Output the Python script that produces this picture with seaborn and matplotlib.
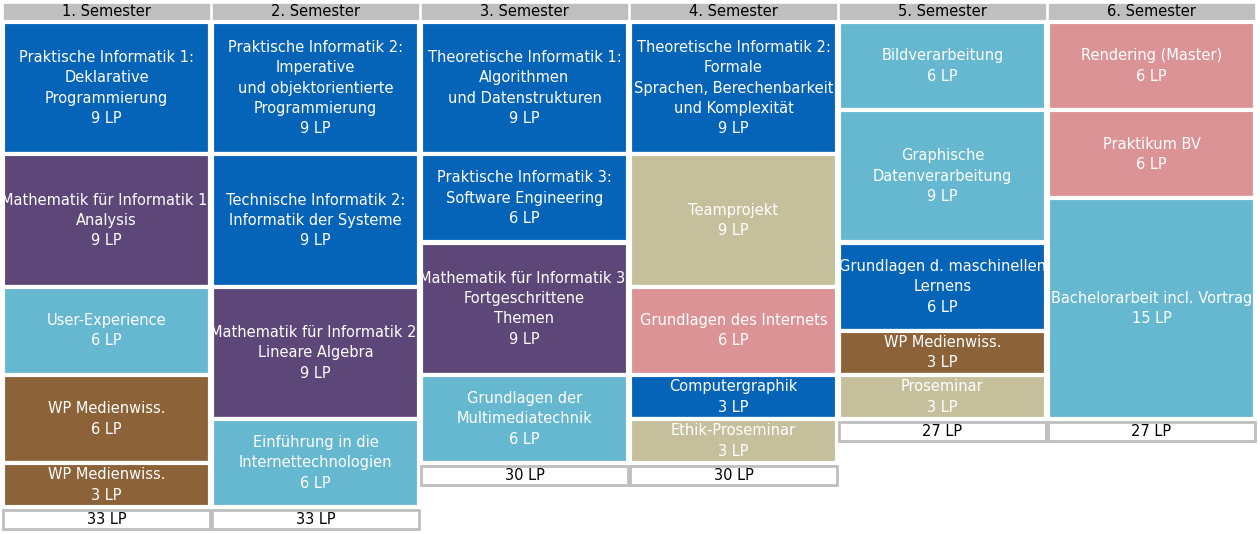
import matplotlib
matplotlib.use("Agg")
import matplotlib.pyplot as plt
import seaborn as sns

semesters = ["1. Semester", "2. Semester", "3. Semester", "4. Semester", "5. Semester", "6. Semester"]
modules = [
    [("Praktische Informatik 1:\nDeklarative\nProgrammierung", 9, "blue"),
     ("Mathematik für Informatik 1:\nAnalysis", 9, "purple"),
     ("User-Experience", 6, "light"),
     ("WP Medienwiss.", 6, "brown"),
     ("WP Medienwiss.", 3, "brown")],
    [("Praktische Informatik 2:\nImperative\nund objektorientierte\nProgrammierung", 9, "blue"),
     ("Technische Informatik 2:\nInformatik der Systeme", 9, "blue"),
     ("Mathematik für Informatik 2:\nLineare Algebra", 9, "purple"),
     ("Einführung in die\nInternettechnologien", 6, "light")],
    [("Theoretische Informatik 1:\nAlgorithmen\nund Datenstrukturen", 9, "blue"),
     ("Praktische Informatik 3:\nSoftware Engineering", 6, "blue"),
     ("Mathematik für Informatik 3:\nFortgeschrittene\nThemen", 9, "purple"),
     ("Grundlagen der\nMultimediatechnik", 6, "light")],
    [("Theoretische Informatik 2:\nFormale\nSprachen, Berechenbarkeit\nund Komplexität", 9, "blue"),
     ("Teamprojekt", 9, "tan"),
     ("Grundlagen des Internets", 6, "pink"),
     ("Computergraphik", 3, "blue"),
     ("Ethik-Proseminar", 3, "tan")],
    [("Bildverarbeitung", 6, "light"),
     ("Graphische\nDatenverarbeitung", 9, "light"),
     ("Grundlagen d. maschinellen\nLernens", 6, "blue"),
     ("WP Medienwiss.", 3, "brown"),
     ("Proseminar", 3, "tan")],
    [("Rendering (Master)", 6, "pink"),
     ("Praktikum BV", 6, "pink"),
     ("Bachelorarbeit incl. Vortrag", 15, "light")],
]
palette = {"blue": "#0563b8", "purple": "#5d4778", "light": "#66b8d0",
           "brown": "#8c6239", "tan": "#c6bf9c", "pink": "#dc9396"}

sns.set_theme(style="white")
plt.rcParams['font.family'] = ['DejaVu Sans']
fig = plt.figure(figsize=(12.6, 5.34), dpi=100)
ax = fig.add_axes([0, 0, 1, 1])
PX = 14.7
ax.set_xlim(0, 1260)
ax.set_ylim((534 - 22) / PX, -22 / PX)
ax.axis("off")

x0, w = 3, 207
for i, sem in enumerate(semesters):
    left = x0 + i * 209
    cx = left + w / 2
    ax.bar(cx, 17 / PX, bottom=-19 / PX, width=w, color="#bfbfbf", edgecolor="white", linewidth=0.5)
    ax.text(cx, -10.5 / PX, sem, ha="center", va="center", fontsize=10.5, color="black")
    bottom = 0
    for name, lp, cat in modules[i]:
        ax.bar(cx, lp, bottom=bottom, width=w, color=palette[cat], edgecolor="white", linewidth=3)
        ax.text(cx, bottom + lp / 2, f"{name}\n{lp} LP", ha="center", va="center",
                fontsize=10.5, color="white", linespacing=1.45)
        bottom += lp
    ax.bar(cx, 19 / PX, bottom=bottom + 3 / PX, width=w, color="white", edgecolor="#bfbfbf", linewidth=2)
    ax.text(cx, bottom + 12.5 / PX, f"{bottom} LP", ha="center", va="center", fontsize=10.5, color="black")

fig.savefig("out.png", dpi=100)
